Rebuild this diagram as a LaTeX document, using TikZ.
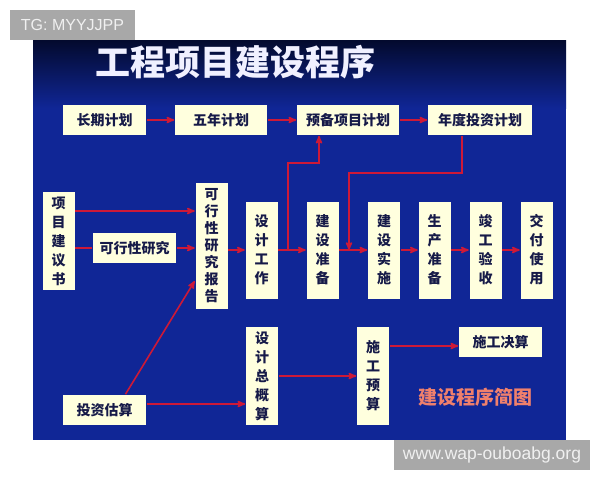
\documentclass[tikz,border=0pt]{standalone}
\usepackage{fontspec}
\setsansfont{Liberation Sans}
\newfontfamily\cjk{Noto Sans CJK SC}
\usetikzlibrary{arrows}

\definecolor{slideblue}{RGB}{16,38,150}
\definecolor{slidetop}{RGB}{3,10,45}
\definecolor{boxfill}{RGB}{255,255,222}
\definecolor{boxtext}{RGB}{22,26,72}
\definecolor{linkred}{RGB}{205,25,55}
\definecolor{captionred}{RGB}{240,128,108}
\definecolor{markgrey}{RGB}{168,168,168}

\begin{document}
\begin{tikzpicture}[x=1pt,y=-1pt,->,>=stealth',line width=1.6pt,
  plan node/.style={fill=boxfill,text=boxtext,inner sep=0pt,minimum height=30pt,font=\cjk\bfseries\fontsize{14}{14}\selectfont},
  tall node/.style={fill=boxfill,text=boxtext,inner sep=0pt,minimum width=32pt,align=center,font=\cjk\bfseries\fontsize{14}{19}\selectfont},
  mark node/.style={fill=markgrey,text=white!94!black,inner sep=0pt,minimum height=30pt,font=\sffamily\fontsize{16}{16}\selectfont}]

 % page and slide
 \fill[white] (0,0) rectangle (600,480);
 \useasboundingbox (0,0) rectangle (600,480);
 \fill[slideblue] (33,40) rectangle (566,440);
 \shade[top color=slidetop,bottom color=slideblue] (33,40) rectangle (566,108);

 \node[mark node,minimum width=125pt] (tg) at (72.5,25) {TG: MYYJJPP};
 \node[mark node,minimum width=196pt,font=\sffamily\fontsize{17.5}{17.5}\selectfont] (site) at (492,455) {www.wap-ouboabg.org};

 \node[anchor=west,text=white!94!blue,font=\cjk\bfseries\fontsize{35}{35}\selectfont] (title) at (91,62) {工程项目建设程序};
 \node[text=captionred,font=\cjk\bfseries\fontsize{19}{19}\selectfont] (caption) at (475,397) {建设程序简图};

 % plans
 \node[plan node,minimum width=83pt] (long) at (104.5,120) {长期计划};
 \node[plan node,minimum width=92pt] (five) at (221,120) {五年计划};
 \node[plan node,minimum width=102pt] (reserve) at (348,120) {预备项目计划};
 \node[plan node,minimum width=104pt] (annual) at (480,120) {年度投资计划};

 % main row
 \node[tall node,minimum height=98pt] (proposal) at (58.5,241) {项\\目\\建\\议\\书};
 \node[plan node,minimum width=83pt] (study) at (134.5,248) {可行性研究};
 \node[tall node,minimum height=126pt,font=\cjk\bfseries\fontsize{14}{17}\selectfont] (report) at (211.5,246) {可\\行\\性\\研\\究\\报\\告};
 \node[tall node,minimum height=97pt] (design) at (261.5,250) {设\\计\\工\\作};
 \node[tall node,minimum height=97pt] (prep) at (322.5,250) {建\\设\\准\\备};
 \node[tall node,minimum height=97pt] (build) at (384,250) {建\\设\\实\\施};
 \node[tall node,minimum height=97pt] (prod) at (434.5,250) {生\\产\\准\\备};
 \node[tall node,minimum height=97pt] (accept) at (485.5,250) {竣\\工\\验\\收};
 \node[tall node,minimum height=97pt] (deliver) at (536.5,250) {交\\付\\使\\用};

 % costs
 \node[plan node,minimum width=83pt] (estimate) at (104.5,410) {投资估算};
 \node[tall node,minimum height=98pt] (budget) at (262,376) {设\\计\\总\\概\\算};
 \node[tall node,minimum height=98pt] (cbudget) at (373,376) {施\\工\\预\\算};
 \node[plan node,minimum width=83pt] (settle) at (500.5,342) {施工决算};

 \coordinate (p1) at ([yshift=30pt]proposal.east);
 \coordinate (r1) at ([yshift=-35pt]report.west);
 \coordinate (e1) at ([xshift=21pt]estimate.north);
 \coordinate (e2) at ([yshift=6pt]estimate.east);
 \coordinate (c1) at ([yshift=-4pt]settle.west);
 \coordinate (fork1) at (288,250);
 \coordinate (fork2) at (349,250);
 \coordinate (s1) at ([xshift=-29pt]reserve.south);
 \coordinate (a1) at ([xshift=-18pt]annual.south);

 \path[every edge/.style={draw=linkred}]
    (long)		edge (five)
    (five)		edge (reserve)
    (reserve)	edge (annual)
    (p1)		edge (p1 -| report.west)
    (proposal.east |- study.west) edge[-] (study.west)
    (study.east) edge (study.east -| report.west)
    (report.east |- design.west) edge (design.west)
    (design)	edge (prep)
    (prep)		edge (build)
    (build)		edge (prod)
    (prod)		edge (accept)
    (accept)	edge (deliver)
    (e1)		edge (r1)
    (e2)		edge (e2 -| budget.west)
    (budget)	edge (cbudget)
    (cbudget.east |- c1) edge (c1);

 \draw[linkred] (fork1) -- ++(0,-87) -| (s1);
 \draw[linkred] (a1) -- ++(0,37) -| (fork2);

\end{tikzpicture}
\end{document}
